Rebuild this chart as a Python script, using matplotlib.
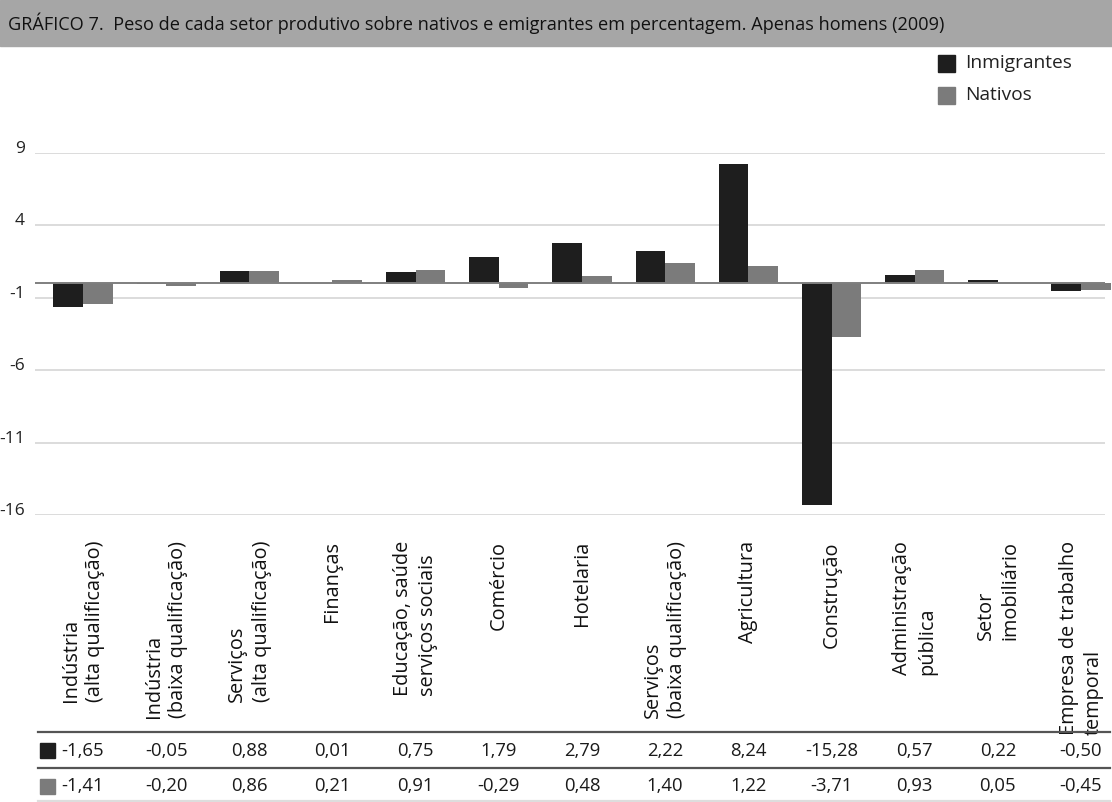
import matplotlib
matplotlib.use("Agg")
import matplotlib.pyplot as plt
from matplotlib import font_manager
from matplotlib.patches import Rectangle
from matplotlib.lines import Line2D
from matplotlib.transforms import blended_transform_factory, ScaledTranslation

# ---- data -----------------------------------------------------------------
categories = [
    "Indústria\n(alta qualificação)",
    "Indústria\n(baixa qualificação)",
    "Serviços\n(alta qualificação)",
    "Finanças",
    "Educação, saúde\nserviços sociais",
    "Comércio",
    "Hotelaria",
    "Serviços\n(baixa qualificação)",
    "Agricultura",
    "Construção",
    "Administração\npública",
    "Setor\nimobiliário",
    "Empresa de trabalho\ntemporal",
]
inmigrantes = [-1.65, -0.05, 0.88, 0.01, 0.75, 1.79, 2.79, 2.22, 8.24, -15.28, 0.57, 0.22, -0.50]
nativos = [-1.41, -0.20, 0.86, 0.21, 0.91, -0.29, 0.48, 1.40, 1.22, -3.71, 0.93, 0.05, -0.45]
series_names = ["Inmigrantes", "Nativos"]
y_ticks = [9, 4, -1, -6, -11, -16]
title = ("GRÁFICO 7.  Peso de cada setor produtivo sobre nativos e emigrantes "
         "em percentagem. Apenas homens (2009)")

# ---- styling --------------------------------------------------------------
DARK = "#1e1e1e"
GRAY = "#7b7b7b"
W, H = 1112, 802
DPI = 100

installed = {f.name for f in font_manager.fontManager.ttflist}
def pick(*names):
    for n in names:
        if n in installed:
            return n
    return "DejaVu Sans"

BODY = pick("Open Sans", "Noto Sans", "DejaVu Sans")
NARROW = pick("Liberation Sans Narrow", "Open Sans", "DejaVu Sans")
plt.rcParams["font.family"] = [BODY, "DejaVu Sans"]

fig = plt.figure(figsize=(W / DPI, H / DPI), dpi=DPI)

def fx(px):
    return px / W

def fy(py):
    return 1 - py / H

# plot area: 9 at y=153 px, -16 at y=515 px
ax_left, ax_right = 35, 1105
ax = fig.add_axes([fx(ax_left), fy(515), (ax_right - ax_left) / W, (515 - 153) / H])
ax.set_ylim(-16, 9)
cat_step = 83.17
ax.set_xlim(-(83 - ax_left) / cat_step, 12 + (ax_right - 1081) / cat_step)

x = list(range(len(categories)))
bw = 0.355
ax.bar([i - bw / 2 for i in x], inmigrantes, width=bw, color=DARK, clip_on=False, zorder=3)
ax.bar([i + bw / 2 for i in x], nativos, width=bw, color=GRAY, clip_on=False, zorder=3)

for s in ax.spines.values():
    s.set_visible(False)
ax.set_yticks(y_ticks)
ax.set_yticklabels([str(v) for v in y_ticks], fontsize=12.5, color="#222222")
ax.tick_params(axis="y", length=0, pad=7.5)
ax.tick_params(axis="x", length=0, labelbottom=False)
ax.set_xticks([])
ax.yaxis.grid(True, color="#d9d9d9", linewidth=1.3, zorder=0)
ax.axhline(0, color="#7f7f7f", linewidth=1.4, zorder=4)
for lab in ax.get_yticklabels():
    lab.set_transform(lab.get_transform() + ScaledTranslation(0, 6 / DPI, fig.dpi_scale_trans))

# category labels, rotated, hanging below the plot
xfig = blended_transform_factory(ax.transData, fig.transFigure)
for i, name in enumerate(categories):
    ax.text(i, fy(541), name, transform=xfig, rotation=90, ha="center", va="top",
            multialignment="left", fontsize=14.3, linespacing=1.3, color="#111111",
            clip_on=False)

# data table beneath the labels
for py, col in [(731.5, "#555555"), (767.5, "#555555"), (800.5, "#dddddd")]:
    fig.add_artist(Line2D([fx(38), fx(1110)], [fy(py), fy(py)], color=col, linewidth=1.6))

def fmt(v):
    return f"{v:.2f}".replace(".", ",")

for row_y, vals, color in [(750.5, inmigrantes, DARK), (786, nativos, GRAY)]:
    fig.add_artist(Rectangle((fx(40), fy(row_y + 7.5)), 15 / W, 15 / H,
                             transform=fig.transFigure, color=color))
    for i, v in enumerate(vals):
        ax.text(i, fy(row_y), fmt(v), transform=xfig, ha="center", va="center",
                fontsize=13.3, color="#1a1a1a", clip_on=False)

# title band
fig.add_artist(Rectangle((0, fy(46)), 1, 46 / H, transform=fig.transFigure,
                         color="#a6a6a6", zorder=0))
t = fig.text(fx(8), fy(23), title, fontsize=13, family=[NARROW, "DejaVu Sans"],
             va="center", ha="left", color="#111111")

# legend
legend_items = [(63, DARK, series_names[0]), (95, GRAY, series_names[1])]
legend_texts = []
for py, color, name in legend_items:
    fig.add_artist(Rectangle((fx(938), fy(py + 8.5)), 17 / W, 17 / H,
                             transform=fig.transFigure, color=color))
    legend_texts.append(fig.text(fx(965), fy(py), name, fontsize=14, va="center",
                                 ha="left", color="#222222"))

# fit the title and legend text to their widths
fig.canvas.draw()
r = fig.canvas.get_renderer()
def fit(txt, target):
    w = txt.get_window_extent(r).width
    txt.set_fontsize(txt.get_fontsize() * target / w)
fit(t, 930)
fit(legend_texts[0], 107)
legend_texts[1].set_fontsize(legend_texts[0].get_fontsize())

fig.savefig("out.png", dpi=DPI, facecolor="white")
